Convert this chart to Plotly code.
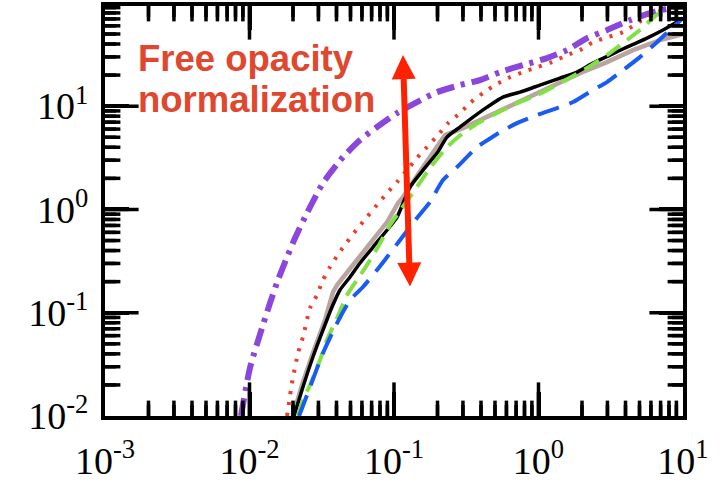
import math
import plotly.graph_objects as go

# ---- curves (x, y) ----
purple_x = [0.00873, 0.01007, 0.01239, 0.01387, 0.01574, 0.01820, 0.02065, 0.02500, 0.03228, 0.04436,
            0.05821, 0.07621, 0.1050, 0.1442, 0.1986, 0.2864, 0.3936, 0.5420, 0.7816, 1.146,
            1.574, 2.168, 2.979, 4.295, 6.194, 9.528]
purple_y = [0.0100, 0.02917, 0.07603, 0.1242, 0.2075, 0.3459, 0.5284, 0.9226, 1.803, 3.214,
            4.699, 6.281, 8.570, 10.96, 13.68, 16.00, 17.91, 21.38, 25.00, 29.24,
            34.91, 45.60, 54.58, 68.08, 81.47, 93.11]

red_x = [0.01820, 0.01968, 0.02168, 0.02344, 0.02624, 0.02931, 0.03228, 0.03606, 0.04159, 0.04732,
         0.05546, 0.06501, 0.07621, 0.08954, 0.1050, 0.1230, 0.1442, 0.1690, 0.2014, 0.2366,
         0.2864, 0.3357, 0.4130, 0.5000, 0.6152, 0.7816, 0.9772, 1.239, 1.574, 1.936,
         2.382, 3.027, 3.846, 5.636, 7.278, 10.0]
red_y = [0.0100, 0.02084, 0.04074, 0.05821, 0.1109, 0.1483, 0.2075, 0.2767, 0.3784, 0.4831,
         0.6457, 0.8433, 1.104, 1.442, 1.841, 2.404, 3.148, 4.018, 5.248, 6.855,
         8.570, 10.72, 13.40, 16.00, 18.71, 21.38, 23.88, 26.73, 31.26, 34.91,
         41.69, 46.67, 52.12, 72.95, 85.11, 95.0]

black_x = [0.02032, 0.02344, 0.02748, 0.03228, 0.03724, 0.04227, 0.04966, 0.05821, 0.07161, 0.08954,
           0.1050, 0.1291, 0.1589, 0.1986, 0.2328, 0.2864, 0.3524, 0.4406, 0.5675, 0.7447,
           1.023, 1.409, 1.845, 2.382, 3.126, 4.093, 5.636, 7.278, 9.078, 10.0]
black_y = [0.0100, 0.01910, 0.03724, 0.06808, 0.1135, 0.1660, 0.2218, 0.3027, 0.4325, 0.6324,
           0.8433, 1.648, 2.404, 3.516, 5.023, 6.281, 7.834, 9.795, 12.25, 13.68,
           16.00, 18.71, 21.38, 26.12, 31.26, 37.33, 45.60, 54.58, 65.16, 71.29]

rosy_x = [0.02000, 0.02307, 0.02748, 0.03327, 0.03784, 0.04036, 0.05200, 0.06823, 0.08954, 0.1067,
          0.1153, 0.1589, 0.1986, 0.2254, 0.3006, 0.3936, 0.5420, 0.8318, 1.259, 1.936,
          2.979, 4.508, 6.934, 10.0]
rosy_y = [0.0100, 0.01995, 0.04074, 0.08492, 0.1585, 0.1854, 0.2897, 0.4732, 0.7551, 1.153,
          1.318, 2.570, 4.018, 5.248, 6.138, 7.328, 9.162, 11.97, 16.00, 20.89,
          26.73, 34.91, 43.65, 49.89]

green_x = [0.02168, 0.02344, 0.02624, 0.03076, 0.03436, 0.04036, 0.04732, 0.05546, 0.06501, 0.07745,
           0.09376, 0.1135, 0.1442, 0.1774, 0.2328, 0.3006, 0.3811, 0.4842, 0.7096, 0.9772,
           1.409, 2.168, 2.979, 3.846, 5.035, 6.194, 7.499]
green_y = [0.0100, 0.01429, 0.01995, 0.03483, 0.05445, 0.08892, 0.1483, 0.2075, 0.2897, 0.4325,
           0.7063, 1.033, 1.648, 2.518, 4.018, 5.495, 6.855, 8.204, 10.72, 12.79,
           16.75, 23.39, 31.26, 40.83, 54.58, 71.29, 89.13]

blue_x = [0.02203, 0.02624, 0.03228, 0.04036, 0.04966, 0.06095, 0.07621, 0.08954, 0.1102, 0.1442,
          0.1774, 0.2183, 0.2729, 0.3750, 0.4130, 0.5420, 0.7096, 0.9772, 1.343, 1.734,
          2.382, 2.979, 3.846, 5.035, 6.607, 8.128, 10.0]
blue_y = [0.0100, 0.01910, 0.04074, 0.07943, 0.1327, 0.1774, 0.2588, 0.3459, 0.5058, 0.8260,
          1.180, 1.928, 2.570, 4.018, 4.395, 5.610, 6.855, 8.204, 9.594, 10.96,
          14.32, 17.10, 22.34, 29.85, 41.69, 54.58, 71.29]

# ---- axis ticks ----
x_major = [1e-3, 1e-2, 1e-1, 1e0, 1e1]
x_major_text = ["10<sup>-3</sup>", "10<sup>-2</sup>", "10<sup>-1</sup>", "10<sup>0</sup>", "10<sup>1</sup>"]
y_major = [1e-2, 1e-1, 1e0, 1e1]
y_major_text = ["10<sup>-2</sup>", "10<sup>-1</sup>", "10<sup>0</sup>", "10<sup>1</sup>"]
x_minor = [m * d for d in (1e-3, 1e-2, 1e-1, 1e0) for m in range(2, 10)]
y_minor = [m * d for d in (1e-2, 1e-1, 1e0, 1e1) for m in range(2, 10)]

X_RANGE = [-3, 1]
Y_RANGE = [-2, 1.97]

W, H = 720, 482
MARGIN = dict(l=105, r=37, t=6, b=66)
PLOT_W = W - MARGIN["l"] - MARGIN["r"]
PLOT_H = H - MARGIN["t"] - MARGIN["b"]
MAJOR_LEN, MINOR_LEN = 24, 11
TICK_W = 3.5

fig = go.Figure()

smooth = dict(shape="spline", smoothing=0.6)
fig.add_trace(go.Scatter(x=purple_x, y=purple_y, mode="lines",
                         line=dict(color="#8b46dc", width=6, dash="18px,7px,4px,7px", **smooth)))
fig.add_trace(go.Scatter(x=red_x, y=red_y, mode="lines",
                         line=dict(color="#e8402c", width=4, dash="3px,8px", **smooth)))
fig.add_trace(go.Scatter(x=rosy_x, y=rosy_y, mode="lines",
                         line=dict(color="#baa4a0", width=4.5)))
fig.add_trace(go.Scatter(x=black_x, y=black_y, mode="lines",
                         line=dict(color="black", width=3.5, **smooth)))
fig.add_trace(go.Scatter(x=green_x, y=green_y, mode="lines",
                         line=dict(color="#80e044", width=4, dash="17px,9px", **smooth)))
fig.add_trace(go.Scatter(x=blue_x, y=blue_y, mode="lines",
                         line=dict(color="#1a5cf2", width=4, dash="22px,11px", **smooth)))

x_lo, x_hi = 10 ** X_RANGE[0], 10 ** X_RANGE[1]
y_lo, y_hi = 10 ** Y_RANGE[0], 10 ** Y_RANGE[1]


def frac(v, rng):
    return (math.log10(v) - rng[0]) / (rng[1] - rng[0])


# inward frame ticks: line markers centred on the frame edge, the outer half clipped away
for vals, length in ((x_major, MAJOR_LEN), (x_minor, MINOR_LEN)):
    inner = [v for v in vals if x_lo < v < x_hi]
    fig.add_trace(go.Scatter(
        x=inner * 2, y=[y_lo] * len(inner) + [y_hi] * len(inner), mode="markers",
        marker=dict(symbol="line-ns", size=2 * length, color="black",
                    line=dict(color="black", width=TICK_W)),
        cliponaxis=True, hoverinfo="skip"))
for vals, length in ((y_major, MAJOR_LEN), (y_minor, MINOR_LEN)):
    inner = [v for v in vals if y_lo < v < y_hi]
    fig.add_trace(go.Scatter(
        x=[x_lo] * len(inner) + [x_hi] * len(inner), y=inner * 2, mode="markers",
        marker=dict(symbol="line-ew", size=2 * length, color="black",
                    line=dict(color="black", width=TICK_W)),
        cliponaxis=True, hoverinfo="skip"))

# the same ticks as paper-referenced line shapes
tick_line = dict(color="black", width=TICK_W)
shapes = []
for vals, length in ((x_major, MAJOR_LEN), (x_minor, MINOR_LEN)):
    h = length / PLOT_H
    for v in vals:
        f = frac(v, X_RANGE)
        if 0 < f < 1:
            shapes.append(dict(type="line", xref="paper", yref="paper", layer="above",
                               x0=f, x1=f, y0=0, y1=h, line=tick_line))
            shapes.append(dict(type="line", xref="paper", yref="paper", layer="above",
                               x0=f, x1=f, y0=1, y1=1 - h, line=tick_line))
for vals, length in ((y_major, MAJOR_LEN), (y_minor, MINOR_LEN)):
    w = length / PLOT_W
    for v in vals:
        f = frac(v, Y_RANGE)
        if 0 < f < 1:
            shapes.append(dict(type="line", xref="paper", yref="paper", layer="above",
                               x0=0, x1=w, y0=f, y1=f, line=tick_line))
            shapes.append(dict(type="line", xref="paper", yref="paper", layer="above",
                               x0=1, x1=1 - w, y0=f, y1=f, line=tick_line))

tick_font = dict(family="Liberation Serif", size=38, color="black")
axis_common = dict(
    type="log", showline=True, linewidth=4, linecolor="black", mirror="ticks",
    ticks="inside", ticklen=MAJOR_LEN, tickwidth=TICK_W, tickcolor="black",
    showgrid=False, zeroline=False, tickfont=tick_font, tickmode="array",
    automargin=False, layer="above traces",
)
fig.update_layout(
    xaxis=dict(range=X_RANGE, tickvals=x_major, ticktext=x_major_text,
               ticklabelstandoff=8, **axis_common),
    yaxis=dict(range=Y_RANGE, tickvals=y_major, ticktext=y_major_text,
               ticklabelstandoff=5, **axis_common),
    shapes=shapes,
)

label_font = dict(family="Liberation Sans", size=36.5, color="#e0472f")
fig.add_annotation(text="<b>Free opacity</b>", xref="paper", yref="paper",
                   x=0.053, y=0.873, xanchor="left", yanchor="middle",
                   showarrow=False, font=label_font)
fig.add_annotation(text="<b>normalization</b>", xref="paper", yref="paper",
                   x=0.053, y=0.771, xanchor="left", yanchor="middle",
                   showarrow=False, font=label_font)

# double-headed arrow (log coordinates)
fig.add_annotation(x=-0.938, y=1.495, ax=-0.889, ay=-0.761,
                   xref="x", yref="y", axref="x", ayref="y", text="",
                   showarrow=True, arrowhead=2, startarrowhead=2, arrowside="end+start",
                   arrowsize=0.8, startarrowsize=0.8, arrowwidth=6, arrowcolor="#ff2200")

fig.update_layout(
    width=W, height=H,
    margin=MARGIN,
    plot_bgcolor="white", paper_bgcolor="white",
    showlegend=False,
)

fig.write_html("out.html")
